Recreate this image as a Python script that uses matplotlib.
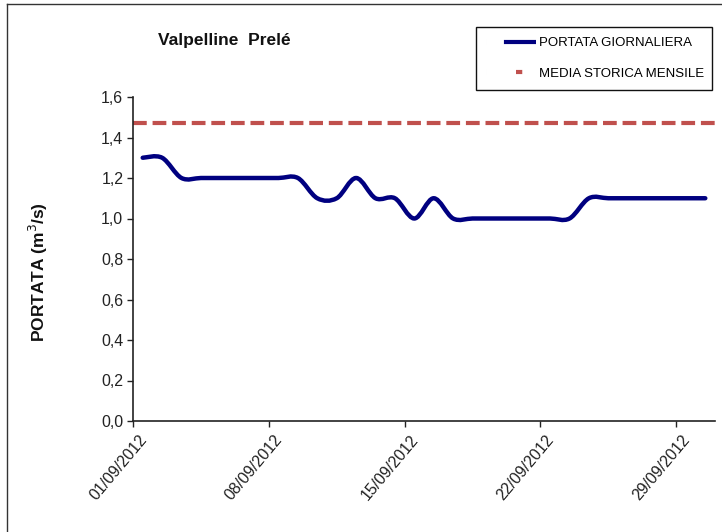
import matplotlib
matplotlib.use("Agg")
import matplotlib.pyplot as plt
from matplotlib.path import Path
from matplotlib.patches import PathPatch
from matplotlib.lines import Line2D
from matplotlib.transforms import ScaledTranslation
import numpy as np

plt.rcParams['font.family'] = ['Liberation Sans', 'DejaVu Sans']

days = list(range(1, 31))
portata = [1.3, 1.3, 1.2, 1.2, 1.2, 1.2, 1.2, 1.2, 1.2, 1.1,
           1.1, 1.2, 1.1, 1.1, 1.0, 1.1, 1.0, 1.0, 1.0, 1.0,
           1.0, 1.0, 1.0, 1.1, 1.1, 1.1, 1.1, 1.1, 1.1, 1.1]
media_storica = 1.47
tick_days = [1, 8, 15, 22, 29]
tick_labels = ['01/09/2012', '08/09/2012', '15/09/2012', '22/09/2012', '29/09/2012']
ytick_vals = [0.0, 0.2, 0.4, 0.6, 0.8, 1.0, 1.2, 1.4, 1.6]
ytick_labels = ['0,0', '0,2', '0,4', '0,6', '0,8', '1,0', '1,2', '1,4', '1,6']

W, H = 722, 532
fig = plt.figure(figsize=(W / 100, H / 100), dpi=100)
ax = fig.add_axes([133 / W, 1 - 421 / H, (715 - 133) / W, (421 - 97) / H])

# smoothed line (Bezier, Excel-like)
pts = np.column_stack([days, portata]).astype(float)
n = len(pts)
verts = [tuple(pts[0])]
codes = [Path.MOVETO]
for i in range(n - 1):
    p0 = pts[i - 1] if i > 0 else pts[i]
    p1 = pts[i]
    p2 = pts[i + 1]
    p3 = pts[i + 2] if i + 2 < n else pts[i + 1]
    c1 = p1 + (p2 - p0) / 6.0
    c2 = p2 - (p3 - p1) / 6.0
    verts += [tuple(c1), tuple(c2), tuple(p2)]
    codes += [Path.CURVE4] * 3
ax.add_patch(PathPatch(Path(verts, codes), facecolor='none', edgecolor='#000080',
                       lw=3.2, capstyle='round', joinstyle='round', zorder=3))

ax.axhline(media_storica, color='#C0504D', lw=3.0, linestyle=(0, (3.3, 1.4)),
           dash_capstyle='butt', zorder=2)

ax.set_xlim(0.5, 30.5)
ax.set_ylim(0, 1.6)
ax.tick_params(axis='both', direction='out', length=4, width=1, color='#222222', pad=3)
ax.tick_params(axis='x', pad=4)
ax.set_xticks([d - 0.5 for d in tick_days])
ax.set_xticklabels(tick_labels, rotation=50, ha='right', va='top',
                   rotation_mode='anchor', fontsize=11.5, color='#222222')
ax.set_yticks(ytick_vals)
ax.set_yticklabels(ytick_labels, fontsize=11.5, color='#222222')
off = ScaledTranslation(5 / 100, 0, fig.dpi_scale_trans)
for lab in ax.get_xticklabels():
    lab.set_transform(lab.get_transform() + off)
for s in ['top', 'right']:
    ax.spines[s].set_visible(False)
for s in ['left', 'bottom']:
    ax.spines[s].set_color('#222222')
    ax.spines[s].set_linewidth(1.2)

ax.set_ylabel('PORTATA (m$^3$/s)', fontsize=12.5, fontweight='bold', color='#111111')
ax.yaxis.set_label_coords((50 - 133) / (715 - 133), (421 - 272) / (421 - 97))

fig.text(158 / W, 1 - 40 / H, 'Valpelline  Prelé', fontsize=12.5, fontweight='bold',
         ha='left', va='center', color='#111111')

# legend
h1 = Line2D([], [], color='#000080', lw=3.0, linestyle=(0, (0.001, 4.3, 7.7, 100)),
            dash_capstyle='butt')
h2 = Line2D([], [], color='#C0504D', lw=3.0, linestyle=(0, (0.001, 7.2, 1.5, 100)),
            dash_capstyle='butt')
leg = fig.legend([h1, h2], ['PORTATA GIORNALIERA', 'MEDIA STORICA MENSILE'],
                 loc='upper left',
                 bbox_to_anchor=(476 / W, 1 - 27 / H - 0.01, (712 - 476) / W, 0.01),
                 mode='expand', fontsize=9.5, handlelength=3.9, handletextpad=0.15,
                 labelspacing=1.4, borderpad=0.75, fancybox=False, framealpha=1,
                 edgecolor='#111111', borderaxespad=0)
leg.get_frame().set_linewidth(1.0)

# figure border (left and top)
fig.add_artist(Line2D([7 / W, 7 / W], [0, 1 - 4 / H], transform=fig.transFigure,
                      color='#333333', lw=1.0))
fig.add_artist(Line2D([7 / W, 1], [1 - 4 / H, 1 - 4 / H], transform=fig.transFigure,
                      color='#333333', lw=1.0))

fig.savefig('out.png', dpi=100)
